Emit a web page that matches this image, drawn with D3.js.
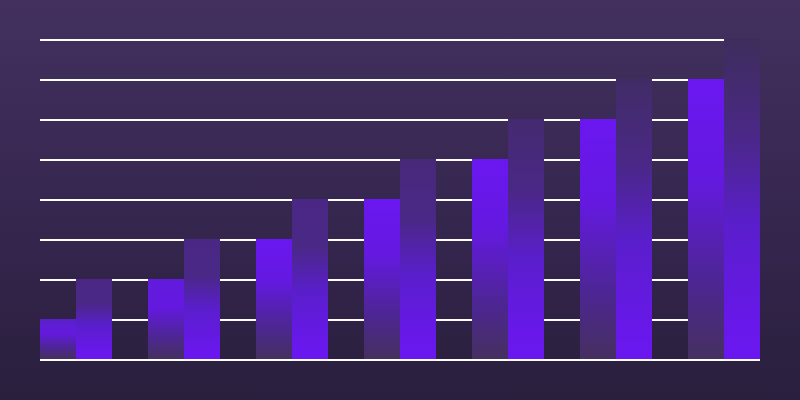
<!DOCTYPE html>
<html>
<head>
<meta charset="utf-8">
<script src="https://cdn.jsdelivr.net/npm/d3@7/dist/d3.min.js"></script>
<style>
  html, body { margin: 0; padding: 0; background: #2a1f3d; }
  svg { display: block; }
</style>
</head>
<body>
<svg id="chart" width="800" height="400"></svg>
<script>
const categories = ["A", "B", "C", "D", "E", "F", "G"];
const seriesNames = ["first", "second"];
const firstValues = [1, 2, 3, 4, 5, 6, 7];
const secondValues = [2, 3, 4, 5, 6, 7, 8];
const yTicks = [0, 1, 2, 3, 4, 5, 6, 7, 8];

const W = 800, H = 400;
const svg = d3.select("#chart");
const defs = svg.append("defs");

// background gradient
const bg = defs.append("linearGradient").attr("id", "bg")
  .attr("x1", 0).attr("y1", 0).attr("x2", 0).attr("y2", 1);
bg.append("stop").attr("offset", 0).attr("stop-color", "#43305f");
bg.append("stop").attr("offset", 0.5).attr("stop-color", "#362750");
bg.append("stop").attr("offset", 1).attr("stop-color", "#2a1f3d");
svg.append("rect").attr("width", W).attr("height", H).attr("fill", "url(#bg)");

const x = d3.scaleBand().domain(categories).range([40, 760]).paddingInner(1 / 3).paddingOuter(0);
const xs = d3.scaleBand().domain(seriesNames).range([0, x.bandwidth()]);
const y = d3.scaleLinear().domain([0, 8]).range([360, 40]);

const shadeR = d3.scaleLinear().domain([4, 8]).range([0, 1]).clamp(true);
const shadeL = d3.scaleLinear().domain([1, 3]).range([0, 1]).clamp(true);
const topRight = d3.interpolateRgb("#4a2784", "#3e2d5c");
const topLeft = d3.interpolateRgb("#5a20c8", "#6a17f0");

// gridlines (behind bars)
svg.append("g").selectAll("line").data(yTicks.filter(t => t > 0)).join("line")
  .attr("x1", 40).attr("x2", 760)
  .attr("y1", d => y(d)).attr("y2", d => y(d))
  .attr("stroke", "#ffffff").attr("stroke-width", 2);

const rows = [];
categories.forEach((c, i) => {
  rows.push({ cat: c, s: "first", v: firstValues[i], i });
  rows.push({ cat: c, s: "second", v: secondValues[i], i });
});

rows.forEach((d, k) => {
  const g = defs.append("linearGradient").attr("id", "g" + k)
    .attr("x1", 0).attr("y1", 0).attr("x2", 0).attr("y2", 1);
  if (d.s === "first") {
    g.append("stop").attr("offset", 0).attr("stop-color", topLeft(shadeL(d.v)));
    g.append("stop").attr("offset", 0.35).attr("stop-color", "#6419e0");
    g.append("stop").attr("offset", 0.7).attr("stop-color", "#4e2598");
    g.append("stop").attr("offset", 1).attr("stop-color", "#45305f");
  } else {
    g.append("stop").attr("offset", 0).attr("stop-color", topRight(shadeR(d.v)));
    g.append("stop").attr("offset", 0.3).attr("stop-color", "#4a2886");
    g.append("stop").attr("offset", 0.58).attr("stop-color", "#5a1ecc");
    g.append("stop").attr("offset", 0.9).attr("stop-color", "#6818ea");
    g.append("stop").attr("offset", 1).attr("stop-color", "#6a17f0");
  }
  d.k = k;
});

svg.append("g").selectAll("rect").data(rows).join("rect")
  .attr("x", d => x(d.cat) + xs(d.s))
  .attr("y", d => y(d.v) - 1)
  .attr("width", xs.bandwidth())
  .attr("height", d => y(0) - y(d.v))
  .attr("fill", d => "url(#g" + d.k + ")");

// baseline on top
svg.append("line")
  .attr("x1", 40).attr("x2", 760)
  .attr("y1", y(0)).attr("y2", y(0))
  .attr("stroke", "#ffffff").attr("stroke-width", 2);
</script>
</body>
</html>
